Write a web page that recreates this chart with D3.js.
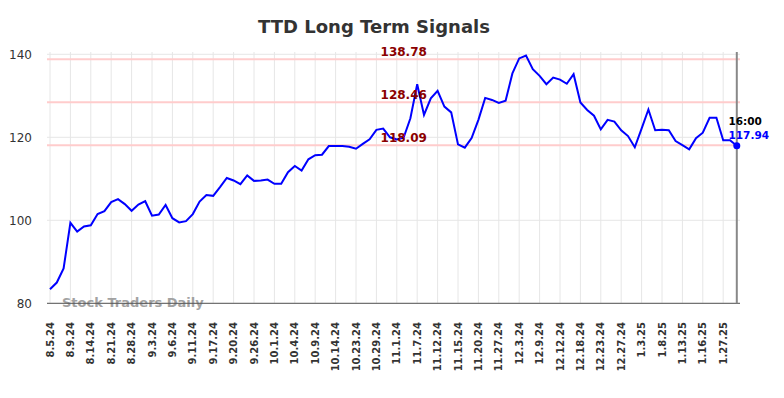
<!DOCTYPE html>
<html>
<head>
<meta charset="utf-8">
<script src="https://cdn.jsdelivr.net/npm/d3@7"></script>
<style>
  body { margin: 0; background: #fff; }
  text { font-family: "DejaVu Sans", sans-serif; }
</style>
</head>
<body>
<div id="chart"></div>
<script>
// Size of the page
const width = 784,
      height = 398;

// Tick labels on the x axis (one every 3 points)
const dateLabels = ["8.5.24", "8.9.24", "8.14.24", "8.21.24", "8.28.24", "9.3.24", "9.6.24",
  "9.11.24", "9.17.24", "9.20.24", "9.26.24", "10.1.24", "10.4.24", "10.9.24", "10.14.24",
  "10.23.24", "10.29.24", "11.1.24", "11.7.24", "11.12.24", "11.15.24", "11.20.24", "11.27.24",
  "12.3.24", "12.9.24", "12.12.24", "12.18.24", "12.23.24", "12.27.24", "1.3.25", "1.8.25",
  "1.13.25", "1.16.25", "1.27.25"];

// Closing prices
const prices = [
  83.4, 85.0, 88.4, 99.4, 97.3, 98.5, 98.8, 101.5, 102.2, 104.4,
  105.1, 103.9, 102.3, 103.8, 104.6, 101.1, 101.4, 103.7, 100.5, 99.5,
  99.8, 101.5, 104.5, 106.1, 105.9, 108.0, 110.2, 109.6, 108.7, 110.8,
  109.5, 109.6, 109.8, 108.8, 108.8, 111.6, 113.1, 112.0, 114.7, 115.7,
  115.8, 117.9, 117.9, 117.9, 117.7, 117.25, 118.4, 119.5, 121.8, 122.1,
  120.0, 119.5, 119.9, 124.6, 132.8, 125.4, 129.4, 131.2, 127.4, 126.0,
  118.3, 117.5, 119.8, 124.2, 129.5, 129.0, 128.3, 128.8, 135.4, 139.0,
  139.7, 136.4, 134.8, 132.8, 134.4, 133.9, 132.9, 135.2, 128.4, 126.6,
  125.2, 121.9, 124.2, 123.8, 121.7, 120.3, 117.6, 122.1, 126.7, 121.7,
  121.8, 121.7, 119.1, 118.1, 117.1, 119.8, 121.1, 124.7, 124.7, 119.3,
  119.3, 117.94
];

// Signal levels
const signalLevels = [138.78, 128.46, 118.09];
const yTicks = [80, 100, 120, 140];
const lastTime = "16:00";

const svg = d3.select("#chart").append("svg")
    .attr("width", width)
    .attr("height", height);

const plotLeft = 47, plotRight = 740, plotTop = 52, plotBottom = 303.3;

const x = d3.scaleLinear()
    .domain([0, prices.length - 1])
    .range([50, 736.8]);

const y = d3.scaleLinear()
    .domain([80, 140])
    .range([303.3, 54.3]);

// Title
svg.append("text")
    .attr("x", 374)
    .attr("y", 33)
    .attr("text-anchor", "middle")
    .style("font-size", "18px")
    .style("font-weight", "bold")
    .style("fill", "#333")
    .text("TTD Long Term Signals");

// Grid lines
svg.append("g")
    .selectAll("line")
    .data(yTicks)
    .enter().append("line")
    .attr("x1", plotLeft)
    .attr("x2", plotRight)
    .attr("y1", d => y(d))
    .attr("y2", d => y(d))
    .style("stroke", "#e6e6e6")
    .style("stroke-width", 1);

svg.append("g")
    .selectAll("line")
    .data(dateLabels)
    .enter().append("line")
    .attr("x1", (d, i) => x(i * 3))
    .attr("x2", (d, i) => x(i * 3))
    .attr("y1", plotTop)
    .attr("y2", plotBottom)
    .style("stroke", "#e6e6e6")
    .style("stroke-width", 1);

// Y axis labels
svg.append("g")
    .selectAll("text")
    .data(yTicks)
    .enter().append("text")
    .attr("x", 32)
    .attr("y", d => y(d))
    .attr("dy", "0.35em")
    .attr("text-anchor", "end")
    .style("font-size", "12px")
    .style("fill", "#333")
    .text(d => d);

// X axis labels (rotated)
svg.append("g")
    .selectAll("text")
    .data(dateLabels)
    .enter().append("text")
    .attr("transform", (d, i) => `translate(${x(i * 3)},322) rotate(-90)`)
    .attr("dy", "0.35em")
    .attr("text-anchor", "end")
    .style("font-size", "10px")
    .style("font-weight", "bold")
    .style("fill", "#333")
    .text(d => d);

// Signal lines
svg.append("g")
    .selectAll("line")
    .data(signalLevels)
    .enter().append("line")
    .attr("x1", plotLeft)
    .attr("x2", plotRight)
    .attr("y1", d => y(d))
    .attr("y2", d => y(d))
    .style("stroke", "#ffcccc")
    .style("stroke-width", 2);

// Watermark
svg.append("text")
    .attr("x", 62)
    .attr("y", 307)
    .style("font-size", "13px")
    .style("font-weight", "bold")
    .style("fill", "#999")
    .style("opacity", 0.9)
    .text("Stock Traders Daily");

// Bottom axis line
svg.append("line")
    .attr("x1", plotLeft)
    .attr("x2", plotRight)
    .attr("y1", plotBottom)
    .attr("y2", plotBottom)
    .style("stroke", "#555")
    .style("stroke-width", 1);

// Vertical marker at the last point
svg.append("line")
    .attr("x1", x(prices.length - 1))
    .attr("x2", x(prices.length - 1))
    .attr("y1", plotTop)
    .attr("y2", plotBottom)
    .style("stroke", "#888")
    .style("stroke-width", 2);

// Price line
const line = d3.line()
    .x((d, i) => x(i))
    .y(d => y(d));

svg.append("path")
    .datum(prices)
    .attr("d", line)
    .style("fill", "none")
    .style("stroke", "#0000ff")
    .style("stroke-width", 2);

// Signal labels
svg.append("g")
    .selectAll("text")
    .data(signalLevels)
    .enter().append("text")
    .attr("x", 403.7)
    .attr("y", d => y(d) - 3.5)
    .attr("text-anchor", "middle")
    .style("font-size", "12px")
    .style("font-weight", "bold")
    .style("fill", "#8b0000")
    .text(d => d.toFixed(2));

// Last point dot and labels
const last = prices[prices.length - 1];
svg.append("circle")
    .attr("cx", x(prices.length - 1))
    .attr("cy", y(last))
    .attr("r", 3.5)
    .style("fill", "#0000ff");

svg.append("text")
    .attr("x", 728.5)
    .attr("y", 124.5)
    .style("font-size", "10.5px")
    .style("font-weight", "bold")
    .style("fill", "#000")
    .text(lastTime);

svg.append("text")
    .attr("x", 728.5)
    .attr("y", 138.7)
    .style("font-size", "10.5px")
    .style("font-weight", "bold")
    .style("fill", "#0000ff")
    .text(last.toFixed(2));
</script>
</body>
</html>
